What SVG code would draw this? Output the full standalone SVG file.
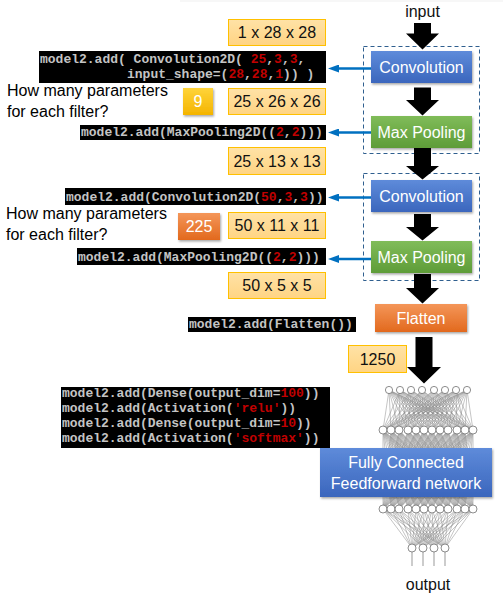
<svg xmlns="http://www.w3.org/2000/svg" width="503" height="597" viewBox="0 0 503 597">
<defs>
<linearGradient id="gBlue" x1="0" y1="0" x2="0" y2="1"><stop offset="0" stop-color="#5E8BDA"/><stop offset="1" stop-color="#3B66BD"/></linearGradient>
<linearGradient id="gGreen" x1="0" y1="0" x2="0" y2="1"><stop offset="0" stop-color="#80BC59"/><stop offset="1" stop-color="#5E9C38"/></linearGradient>
<linearGradient id="gOrange" x1="0" y1="0" x2="0" y2="1"><stop offset="0" stop-color="#F49659"/><stop offset="1" stop-color="#E2691D"/></linearGradient>
<linearGradient id="gGold" x1="0" y1="0" x2="0" y2="1"><stop offset="0" stop-color="#FFD43A"/><stop offset="1" stop-color="#F4B400"/></linearGradient>
<linearGradient id="gPale" x1="0" y1="0" x2="0" y2="1"><stop offset="0" stop-color="#FFE2A6"/><stop offset="1" stop-color="#FFD483"/></linearGradient>
<filter id="sh" x="-10%" y="-20%" width="130%" height="160%"><feDropShadow dx="1" dy="1.5" stdDeviation="1" flood-color="#000" flood-opacity="0.35"/></filter>
<marker id="bh" viewBox="0 0 11 8" markerWidth="11" markerHeight="8" markerUnits="userSpaceOnUse" refX="3" refY="4" orient="auto"><path d="M0 0L11 4L0 8z" fill="#0070C0"/></marker>
</defs>
<style>
.lbl{font-family:"Liberation Sans",Arial,sans-serif;font-size:16px;fill:#fff;text-anchor:middle}
.dim{font-family:"Liberation Sans",Arial,sans-serif;font-size:16px;fill:#111;text-anchor:middle}
.q{font-family:"Liberation Sans",Arial,sans-serif;font-size:16px;fill:#000}
.code{font-family:"Liberation Mono","Courier New",monospace;font-size:13px;font-weight:bold;fill:#C4C4C4}
.r{fill:#C00000}
.cb{fill:#000}
.pale{fill:url(#gPale);stroke:#FFC000;stroke-width:1}
.dash{fill:none;stroke:#2F5F8F;stroke-width:1;stroke-dasharray:4 3}
.blk{fill:#000}
.blue{stroke:#0070C0;stroke-width:2.5;fill:none;marker-end:url(#bh)}
.net{stroke:#8a8a8a;stroke-width:0.5;fill:none}
.nd{fill:#fff;stroke:#707070;stroke-width:0.8}
</style>
<rect width="503" height="597" fill="#fff"/>
<line x1="180" y1="1" x2="503" y2="1" stroke="#efefef" stroke-width="1"/>

<g id="conv-block-1"><rect class="dash" x="363.5" y="46.5" width="116" height="107"/></g>
<g id="conv-block-2"><rect class="dash" x="363.5" y="173.5" width="116" height="107"/></g>

<g id="fc-network">
<path class="net" d="M389 390L383 430M389 390L391 430M389 390L399 430M389 390L408 430M389 390L416 430M389 390L424 430M389 390L432 430M389 390L440 430M389 390L448 430M389 390L457 430M389 390L465 430M389 390L473 430M400 390L383 430M400 390L391 430M400 390L399 430M400 390L408 430M400 390L416 430M400 390L424 430M400 390L432 430M400 390L440 430M400 390L448 430M400 390L457 430M400 390L465 430M400 390L473 430M411 390L383 430M411 390L391 430M411 390L399 430M411 390L408 430M411 390L416 430M411 390L424 430M411 390L432 430M411 390L440 430M411 390L448 430M411 390L457 430M411 390L465 430M411 390L473 430M422 390L383 430M422 390L391 430M422 390L399 430M422 390L408 430M422 390L416 430M422 390L424 430M422 390L432 430M422 390L440 430M422 390L448 430M422 390L457 430M422 390L465 430M422 390L473 430M434 390L383 430M434 390L391 430M434 390L399 430M434 390L408 430M434 390L416 430M434 390L424 430M434 390L432 430M434 390L440 430M434 390L448 430M434 390L457 430M434 390L465 430M434 390L473 430M445 390L383 430M445 390L391 430M445 390L399 430M445 390L408 430M445 390L416 430M445 390L424 430M445 390L432 430M445 390L440 430M445 390L448 430M445 390L457 430M445 390L465 430M445 390L473 430M456 390L383 430M456 390L391 430M456 390L399 430M456 390L408 430M456 390L416 430M456 390L424 430M456 390L432 430M456 390L440 430M456 390L448 430M456 390L457 430M456 390L465 430M456 390L473 430M467 390L383 430M467 390L391 430M467 390L399 430M467 390L408 430M467 390L416 430M467 390L424 430M467 390L432 430M467 390L440 430M467 390L448 430M467 390L457 430M467 390L465 430M467 390L473 430"/>
<path class="net" d="M383 430L383 509M383 430L391 509M383 430L399 509M383 430L408 509M383 430L416 509M383 430L424 509M383 430L432 509M383 430L440 509M383 430L448 509M383 430L457 509M383 430L465 509M383 430L473 509M391 430L383 509M391 430L391 509M391 430L399 509M391 430L408 509M391 430L416 509M391 430L424 509M391 430L432 509M391 430L440 509M391 430L448 509M391 430L457 509M391 430L465 509M391 430L473 509M399 430L383 509M399 430L391 509M399 430L399 509M399 430L408 509M399 430L416 509M399 430L424 509M399 430L432 509M399 430L440 509M399 430L448 509M399 430L457 509M399 430L465 509M399 430L473 509M408 430L383 509M408 430L391 509M408 430L399 509M408 430L408 509M408 430L416 509M408 430L424 509M408 430L432 509M408 430L440 509M408 430L448 509M408 430L457 509M408 430L465 509M408 430L473 509M416 430L383 509M416 430L391 509M416 430L399 509M416 430L408 509M416 430L416 509M416 430L424 509M416 430L432 509M416 430L440 509M416 430L448 509M416 430L457 509M416 430L465 509M416 430L473 509M424 430L383 509M424 430L391 509M424 430L399 509M424 430L408 509M424 430L416 509M424 430L424 509M424 430L432 509M424 430L440 509M424 430L448 509M424 430L457 509M424 430L465 509M424 430L473 509M432 430L383 509M432 430L391 509M432 430L399 509M432 430L408 509M432 430L416 509M432 430L424 509M432 430L432 509M432 430L440 509M432 430L448 509M432 430L457 509M432 430L465 509M432 430L473 509M440 430L383 509M440 430L391 509M440 430L399 509M440 430L408 509M440 430L416 509M440 430L424 509M440 430L432 509M440 430L440 509M440 430L448 509M440 430L457 509M440 430L465 509M440 430L473 509M448 430L383 509M448 430L391 509M448 430L399 509M448 430L408 509M448 430L416 509M448 430L424 509M448 430L432 509M448 430L440 509M448 430L448 509M448 430L457 509M448 430L465 509M448 430L473 509M457 430L383 509M457 430L391 509M457 430L399 509M457 430L408 509M457 430L416 509M457 430L424 509M457 430L432 509M457 430L440 509M457 430L448 509M457 430L457 509M457 430L465 509M457 430L473 509M465 430L383 509M465 430L391 509M465 430L399 509M465 430L408 509M465 430L416 509M465 430L424 509M465 430L432 509M465 430L440 509M465 430L448 509M465 430L457 509M465 430L465 509M465 430L473 509M473 430L383 509M473 430L391 509M473 430L399 509M473 430L408 509M473 430L416 509M473 430L424 509M473 430L432 509M473 430L440 509M473 430L448 509M473 430L457 509M473 430L465 509M473 430L473 509"/>
<path class="net" d="M383 509L412 548M383 509L423 548M383 509L434 548M383 509L445 548M391 509L412 548M391 509L423 548M391 509L434 548M391 509L445 548M399 509L412 548M399 509L423 548M399 509L434 548M399 509L445 548M408 509L412 548M408 509L423 548M408 509L434 548M408 509L445 548M416 509L412 548M416 509L423 548M416 509L434 548M416 509L445 548M424 509L412 548M424 509L423 548M424 509L434 548M424 509L445 548M432 509L412 548M432 509L423 548M432 509L434 548M432 509L445 548M440 509L412 548M440 509L423 548M440 509L434 548M440 509L445 548M448 509L412 548M448 509L423 548M448 509L434 548M448 509L445 548M457 509L412 548M457 509L423 548M457 509L434 548M457 509L445 548M465 509L412 548M465 509L423 548M465 509L434 548M465 509L445 548M473 509L412 548M473 509L423 548M473 509L434 548M473 509L445 548"/>
<path d="M412 552V566M423 552V566M434 552V566M445 552V566" stroke="#999" stroke-width="1"/>
<g class="nd">
<circle cx="389" cy="390" r="3.6"/><circle cx="400" cy="390" r="3.6"/><circle cx="411" cy="390" r="3.6"/><circle cx="422" cy="390" r="3.6"/><circle cx="434" cy="390" r="3.6"/><circle cx="445" cy="390" r="3.6"/><circle cx="456" cy="390" r="3.6"/><circle cx="467" cy="390" r="3.6"/>
<circle cx="383" cy="430" r="4"/><circle cx="391" cy="430" r="4"/><circle cx="399" cy="430" r="4"/><circle cx="408" cy="430" r="4"/><circle cx="416" cy="430" r="4"/><circle cx="424" cy="430" r="4"/><circle cx="432" cy="430" r="4"/><circle cx="440" cy="430" r="4"/><circle cx="448" cy="430" r="4"/><circle cx="457" cy="430" r="4"/><circle cx="465" cy="430" r="4"/><circle cx="473" cy="430" r="4"/>
<circle cx="383" cy="509" r="4"/><circle cx="391" cy="509" r="4"/><circle cx="399" cy="509" r="4"/><circle cx="408" cy="509" r="4"/><circle cx="416" cy="509" r="4"/><circle cx="424" cy="509" r="4"/><circle cx="432" cy="509" r="4"/><circle cx="440" cy="509" r="4"/><circle cx="448" cy="509" r="4"/><circle cx="457" cy="509" r="4"/><circle cx="465" cy="509" r="4"/><circle cx="473" cy="509" r="4"/>
<circle cx="412" cy="548" r="4"/><circle cx="423" cy="548" r="4"/><circle cx="434" cy="548" r="4"/><circle cx="445" cy="548" r="4"/>
</g>
</g>

<g id="connectors">
<polygon class="blk" points="414,23 431,23 431,33.5 439,33.5 422.5,49.5 406,33.5 414,33.5"/>
<polygon class="blk" points="414,87.5 431,87.5 431,100 439,100 422.5,115.5 406,100 414,100"/>
<polygon class="blk" points="414,148 431,148 431,166 439,166 422.5,179.5 406,166 414,166"/>
<polygon class="blk" points="414,214 431,214 431,227 439,227 422.5,240.5 406,227 414,227"/>
<polygon class="blk" points="414,274 431,274 431,288 439,288 422.5,303.5 406,288 414,288"/>
<polygon class="blk" points="415.5,337 432.5,337 432.5,367 441,367 424,383.5 407,367 415.5,367"/>
<line class="blue" x1="371" y1="68.5" x2="336" y2="68.5"/>
<line class="blue" x1="371" y1="132.5" x2="336" y2="132.5"/>
<line class="blue" x1="371" y1="197.5" x2="336" y2="197.5"/>
<line class="blue" x1="371" y1="259" x2="336" y2="259"/>
</g>

<g id="input"><text class="dim" x="422.5" y="17">input</text></g>
<g id="convolution-1"><rect x="371" y="51" width="101" height="32" fill="url(#gBlue)" filter="url(#sh)"/><text class="lbl" x="421.5" y="73">Convolution</text></g>
<g id="maxpooling-1"><rect x="371" y="116" width="101" height="32" fill="url(#gGreen)" filter="url(#sh)"/><text class="lbl" x="421.5" y="138">Max Pooling</text></g>
<g id="convolution-2"><rect x="371" y="180" width="101" height="32" fill="url(#gBlue)" filter="url(#sh)"/><text class="lbl" x="421.5" y="202">Convolution</text></g>
<g id="maxpooling-2"><rect x="371" y="241" width="101" height="32" fill="url(#gGreen)" filter="url(#sh)"/><text class="lbl" x="421.5" y="263">Max Pooling</text></g>
<g id="flatten"><rect x="375" y="304" width="92" height="28" fill="url(#gOrange)" filter="url(#sh)"/><text class="lbl" x="421" y="324">Flatten</text></g>
<g id="fully-connected"><rect x="320" y="448" width="172" height="49" fill="url(#gBlue)" filter="url(#sh)"/><text class="lbl" x="406" y="468">Fully Connected</text><text class="lbl" x="406" y="489">Feedforward network</text></g>
<g id="output"><text class="dim" x="428" y="590">output</text></g>

<g id="dim-1"><rect class="pale" x="228.5" y="19.5" width="97" height="26"/><text class="dim" x="277" y="38">1 x 28 x 28</text></g>
<g id="dim-2"><rect class="pale" x="228.5" y="88.5" width="97" height="26"/><text class="dim" x="277" y="107">25 x 26 x 26</text></g>
<g id="dim-3"><rect class="pale" x="228.5" y="147.5" width="97" height="27"/><text class="dim" x="277" y="167">25 x 13 x 13</text></g>
<g id="dim-4"><rect class="pale" x="228.5" y="212.5" width="97" height="26"/><text class="dim" x="277" y="231">50 x 11 x 11</text></g>
<g id="dim-5"><rect class="pale" x="228.5" y="272.5" width="97" height="26"/><text class="dim" x="277" y="291">50 x 5 x 5</text></g>
<g id="dim-6"><rect class="pale" x="348.5" y="345.5" width="58" height="27"/><text class="dim" x="377.5" y="365">1250</text></g>

<g id="answer-9"><rect x="183" y="88" width="30" height="27" fill="url(#gGold)" filter="url(#sh)"/><text class="lbl" x="198" y="107">9</text></g>
<g id="answer-225"><rect x="178" y="213" width="42" height="27" fill="url(#gOrange)" filter="url(#sh)"/><text class="lbl" x="199" y="232">225</text></g>

<g id="question-1"><text class="q" x="7" y="96">How many parameters</text><text class="q" x="7" y="117">for each filter?</text></g>
<g id="question-2"><text class="q" x="6" y="219">How many parameters</text><text class="q" x="6" y="240">for each filter?</text></g>

<g id="code-conv-1"><rect class="cb" x="39" y="51" width="287" height="32"/>
<text class="code" x="40" y="63">model2.add( Convolution2D( <tspan class="r">25</tspan>,<tspan class="r">3</tspan>,<tspan class="r">3</tspan>,</text>
<text class="code" x="127" y="78">input_shape=(<tspan class="r">28</tspan>,<tspan class="r">28</tspan>,<tspan class="r">1</tspan>)) )</text></g>
<g id="code-pool-1"><rect class="cb" x="80" y="125" width="246" height="15"/><text class="code" x="81" y="136">model2.add(MaxPooling2D((<tspan class="r">2</tspan>,<tspan class="r">2</tspan>)))</text></g>
<g id="code-conv-2"><rect class="cb" x="65" y="188" width="261" height="17"/><text class="code" x="66" y="201">model2.add(Convolution2D(<tspan class="r">50</tspan>,<tspan class="r">3</tspan>,<tspan class="r">3</tspan>))</text></g>
<g id="code-pool-2"><rect class="cb" x="77" y="248" width="249" height="17"/><text class="code" x="78" y="261">model2.add(MaxPooling2D((<tspan class="r">2</tspan>,<tspan class="r">2</tspan>)))</text></g>
<g id="code-flatten"><rect class="cb" x="188" y="317" width="168" height="15"/><text class="code" x="189" y="328">model2.add(Flatten())</text></g>
<g id="code-dense"><rect class="cb" x="61" y="387" width="269" height="61"/>
<text class="code" x="62" y="397">model2.add(Dense(output_dim=<tspan class="r">100</tspan>))</text>
<text class="code" x="62" y="412">model2.add(Activation(<tspan class="r">'relu'</tspan>))</text>
<text class="code" x="62" y="427">model2.add(Dense(output_dim=<tspan class="r">10</tspan>))</text>
<text class="code" x="62" y="442">model2.add(Activation(<tspan class="r">'softmax'</tspan>))</text></g>
</svg>
